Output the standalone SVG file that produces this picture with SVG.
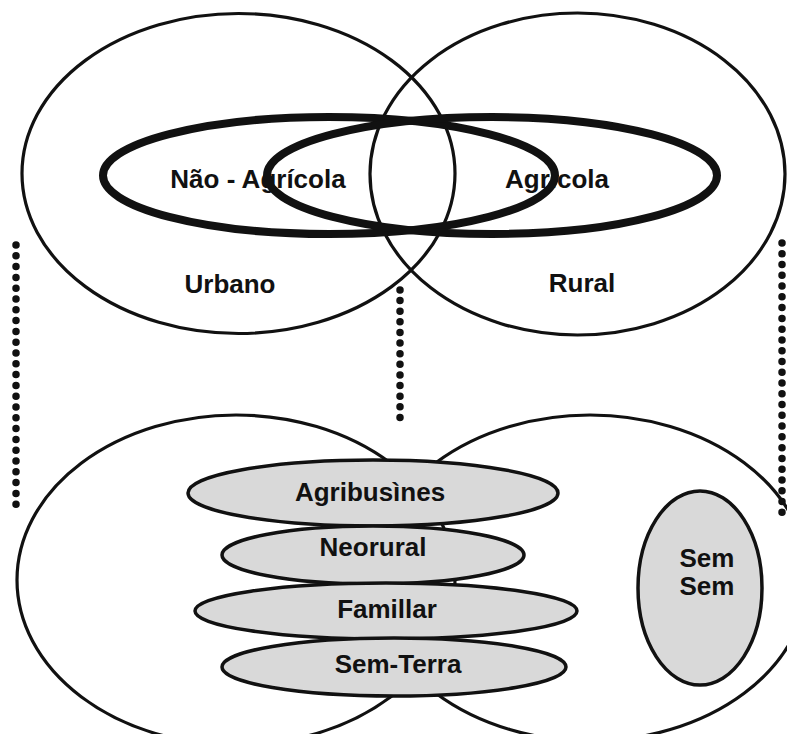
<svg xmlns="http://www.w3.org/2000/svg" width="787" height="734" viewBox="0 0 787 734">
<style>
.thin{fill:none;stroke:#111;stroke-width:3.2}
.thick{fill:none;stroke:#111;stroke-width:8}
.grey{fill:#d9d9d9;stroke:#111;stroke-width:3.5}
.dots{fill:none;stroke:#111;stroke-width:7.5;stroke-linecap:round}
text{font-family:"Liberation Sans",Arial,sans-serif;font-weight:bold;font-size:26px;fill:#111;text-anchor:middle}
</style>
<rect width="787" height="734" fill="#fff"/>
<g id="connectors">
<line class="dots" stroke-dasharray="0 10.8" x1="16" y1="245" x2="16" y2="515"/>
<line class="dots" stroke-dasharray="0 10.77" x1="782" y1="243" x2="782" y2="523"/>
<line class="dots" stroke-dasharray="0 10.62" x1="400" y1="290" x2="400" y2="428"/>
</g>
<g id="urbano">
<ellipse class="thin" cx="238.5" cy="173.5" rx="216.5" ry="160"/>
<text x="230" y="293">Urbano</text>
</g>
<g id="rural">
<ellipse class="thin" cx="577.5" cy="174" rx="207.5" ry="161"/>
<text x="582" y="292">Rural</text>
</g>
<g id="nao-agricola">
<text x="258" y="188">Não - Agrícola</text>
<ellipse class="thick" cx="329" cy="175.5" rx="226" ry="58.5"/>
</g>
<g id="agricola">
<text x="557" y="188">Agrícola</text>
<ellipse class="thick" cx="492" cy="175.5" rx="225" ry="58.5"/>
</g>
<g id="bottom-left">
<ellipse class="thin" cx="236" cy="580" rx="219" ry="165"/>
</g>
<g id="bottom-right">
<ellipse class="thin" cx="590" cy="578" rx="218" ry="163"/>
</g>
<g id="agribusines">
<ellipse class="grey" cx="373" cy="493" rx="185" ry="33"/>
<text x="370" y="501">Agribusìnes</text>
</g>
<g id="neorural">
<ellipse class="grey" cx="373" cy="555" rx="151" ry="29"/>
<text x="373" y="556">Neorural</text>
</g>
<g id="famillar">
<ellipse class="grey" cx="386" cy="611" rx="191" ry="28"/>
<text x="387" y="618">Famillar</text>
</g>
<g id="sem-terra">
<ellipse class="grey" cx="394" cy="667" rx="172" ry="29"/>
<text x="398" y="673">Sem-Terra</text>
</g>
<g id="sem-sem">
<ellipse class="grey" cx="700" cy="588" rx="62" ry="97"/>
<text x="707" y="567">Sem</text>
<text x="707" y="595">Sem</text>
</g>
</svg>
